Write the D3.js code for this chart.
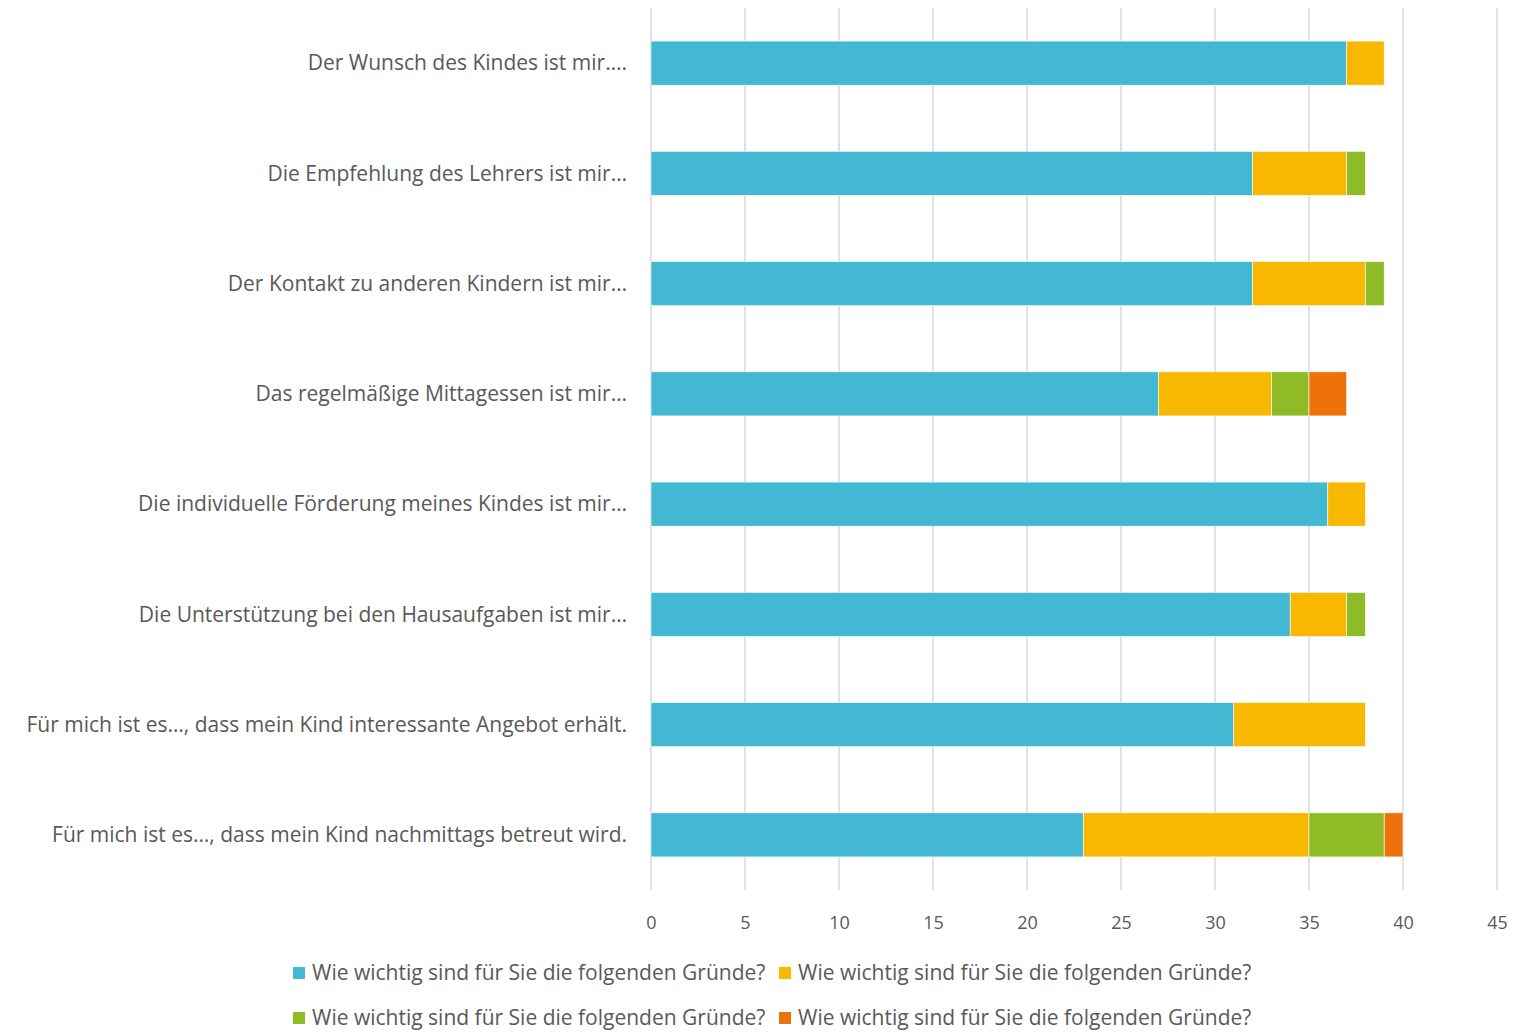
<!DOCTYPE html>
<html>
<head>
<meta charset="utf-8">
<script src="https://cdn.jsdelivr.net/npm/d3@7"></script>
<style>
  body { margin: 0; background: #fff; }
  svg text { font-family: "Open Sans", Lato, sans-serif; fill: #595959; }
</style>
</head>
<body>
<svg id="chart" width="1529" height="1033"></svg>
<script>
const categories = [
    'Der Wunsch des Kindes ist mir….',
    'Die Empfehlung des Lehrers ist mir…',
    'Der Kontakt zu anderen Kindern ist mir…',
    'Das regelmäßige Mittagessen ist mir…',
    'Die individuelle Förderung meines Kindes ist mir…',
    'Die Unterstützung bei den Hausaufgaben ist mir…',
    'Für mich ist es…, dass mein Kind interessante Angebot erhält.',
    'Für mich ist es…, dass mein Kind nachmittags betreut wird.'
];
const seriesNames = [
    'Wie wichtig sind für Sie die folgenden Gründe?',
    'Wie wichtig sind für Sie die folgenden Gründe?',
    'Wie wichtig sind für Sie die folgenden Gründe?',
    'Wie wichtig sind für Sie die folgenden Gründe?'
];
const series1 = [37, 32, 32, 27, 36, 34, 31, 23];
const series2 = [2, 5, 6, 6, 2, 3, 7, 12];
const series3 = [0, 1, 1, 2, 0, 1, 0, 4];
const series4 = [0, 0, 0, 2, 0, 0, 0, 1];
const xTicks = [0, 5, 10, 15, 20, 25, 30, 35, 40, 45];
const colors = ['#42B8D3', '#F9B800', '#8FBC26', '#ED7209'];

const svg = d3.select('#chart');
const margin = { left: 651, right: 32, top: 8, bottom: 143 };
const width = 1529 - margin.left - margin.right;
const height = 1033 - margin.top - margin.bottom;

const rows = categories.map((c, i) => ({
    cat: c, s0: series1[i], s1: series2[i], s2: series3[i], s3: series4[i]
}));
const keys = ['s0', 's1', 's2', 's3'];
const stacked = d3.stack().keys(keys)(rows);

const x = d3.scaleLinear().domain([0, 45]).range([0, width]);
const y = d3.scaleBand().domain(categories).range([0, height]).paddingInner(0.6).paddingOuter(0.3);

const g = svg.append('g').attr('transform', `translate(${margin.left},${margin.top})`);

// Gridlines
g.append('g')
    .selectAll('line')
    .data(xTicks)
    .enter()
    .append('line')
    .attr('x1', d => x(d))
    .attr('x2', d => x(d))
    .attr('y1', 0)
    .attr('y2', height)
    .attr('stroke', '#D9D9D9')
    .attr('stroke-width', 1.5);

// Bars
g.append('g')
    .selectAll('g')
    .data(stacked)
    .enter()
    .append('g')
    .attr('fill', (d, i) => colors[i])
    .selectAll('rect')
    .data(d => d.filter(p => p[1] - p[0] > 0))
    .enter()
    .append('rect')
    .attr('x', d => x(d[0]))
    .attr('width', d => x(d[1]) - x(d[0]))
    .attr('y', d => y(d.data.cat))
    .attr('height', y.bandwidth())
    .attr('stroke', '#fff')
    .attr('stroke-width', 0.6);

// Category labels
g.append('g')
    .selectAll('text')
    .data(categories)
    .enter()
    .append('text')
    .attr('x', -24)
    .attr('y', d => y(d) + y.bandwidth() / 2)
    .attr('dy', '0.35em')
    .attr('text-anchor', 'end')
    .attr('font-size', '21px')
    .text(d => d);

// X axis tick labels
const xAxis = g.append('g')
    .attr('transform', `translate(0,${height})`)
    .call(d3.axisBottom(x).tickValues(xTicks).tickSize(0).tickPadding(26));
xAxis.select('.domain').remove();
xAxis.selectAll('text').attr('font-size', '18px').style('font-family', '"Open Sans", sans-serif').attr('fill', '#595959');

// Legend
const legendItems = seriesNames.map((n, i) => ({ name: n, color: colors[i] }));
const legend = svg.append('g');
const itemW = 486;
const legendX = 293;
legendItems.forEach((d, i) => {
    const col = i % 2, row = Math.floor(i / 2);
    const lg = legend.append('g')
        .attr('transform', `translate(${legendX + col * itemW},${973 + row * 45})`);
    lg.append('rect')
        .attr('x', 0).attr('y', -6)
        .attr('width', 12).attr('height', 12)
        .attr('fill', d.color);
    lg.append('text')
        .attr('x', 19).attr('y', 0).attr('dy', '0.35em')
        .attr('font-size', '21px')
        .text(d.name);
});
</script>
</body>
</html>
